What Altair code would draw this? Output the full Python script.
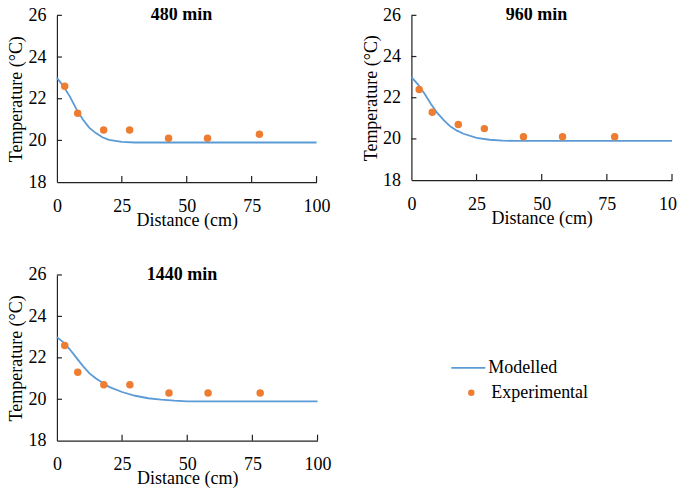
import altair as alt
import pandas as pd

# ---- data ----
exp_distance = [3, 8, 18, 28, 43, 58, 78]
exp_480 = [22.6, 21.3, 20.5, 20.5, 20.1, 20.1, 20.3]
exp_960 = [22.4, 21.3, 20.7, 20.5, 20.1, 20.1, 20.1]
exp_1440 = [22.6, 21.3, 20.7, 20.7, 20.3, 20.3, 20.3]

model_x_480 = [0, 2.5, 5, 7.5, 10, 12.5, 15, 17.5, 20, 25, 30, 40, 60, 80, 100]
model_480 = [23.0, 22.6, 22.1, 21.5, 21.0, 20.6, 20.35, 20.15, 20.03, 19.93, 19.9, 19.9, 19.9, 19.9, 19.9]

model_x_960 = [0, 2.5, 5, 7.5, 10, 12.5, 15, 17.5, 20, 25, 30, 35, 40, 60, 80, 100]
model_960 = [23.0, 22.65, 22.2, 21.7, 21.25, 20.9, 20.6, 20.4, 20.25, 20.05, 19.96, 19.92, 19.9, 19.9, 19.9, 19.9]

model_x_1440 = [0, 2.5, 5, 7.5, 10, 12.5, 15, 17.5, 20, 25, 30, 35, 40, 45, 50, 60, 80, 100]
model_1440 = [23.0, 22.75, 22.4, 22.0, 21.6, 21.25, 21.0, 20.8, 20.6, 20.35, 20.17, 20.05, 19.98, 19.93, 19.9, 19.9, 19.9, 19.9]

x_ticks = [25, 50, 75, 100]
y_ticks = [20, 22, 24, 26]
titles = ["480 min", "960 min", "1440 min"]
series_names = ["Modelled", "Experimental"]

FONT = "Liberation Serif"
BLUE = "#5B9BD5"
ORANGE = "#ED7D31"
AXC = "#222222"
FS = 18


def panel(title, mx, my, ey, w, h, show_legend=False):
    model_df = pd.DataFrame({"Distance": mx, "Temp": my, "Series": series_names[0]})
    exp_df = pd.DataFrame({"Distance": exp_distance, "Temp": ey, "Series": series_names[1]})
    xs = alt.Scale(domain=[0, 100], nice=False)
    ys = alt.Scale(domain=[18, 26], nice=False)
    xax = alt.Axis(values=[0, 25, 50, 75, 100], ticks=False, grid=False, labelPadding=15,
                   labelFlush=False, title="Distance (cm)", titlePadding=-4,
                   domainColor=AXC, domainWidth=1.2)
    yax = alt.Axis(values=[18, 20, 22, 24, 26], ticks=False, grid=False, labelPadding=11,
                   labelFlush=False, title="Temperature (°C)", titlePadding=2,
                   domainColor=AXC, domainWidth=1.2)

    if show_legend:
        line_leg = alt.Legend(title=None, orient="none", legendX=394, legendY=75,
                              symbolType="stroke", symbolSize=1156, symbolStrokeWidth=1.8,
                              labelOffset=2, padding=0)
        pt_leg = alt.Legend(title=None, orient="none", legendX=406, legendY=109,
                            symbolType="circle", symbolSize=42, labelOffset=11, padding=0)
    else:
        line_leg = None
        pt_leg = None

    line = alt.Chart(model_df).mark_line(strokeWidth=1.8).encode(
        x=alt.X("Distance:Q", scale=xs, axis=xax),
        y=alt.Y("Temp:Q", scale=ys, axis=yax),
        color=alt.Color("Series:N", scale=alt.Scale(domain=[series_names[0]], range=[BLUE]),
                        legend=line_leg),
    )
    pts = alt.Chart(exp_df).mark_point(filled=True, opacity=1, size=56).encode(
        x=alt.X("Distance:Q", scale=xs),
        y=alt.Y("Temp:Q", scale=ys),
        color=alt.Color("Series:N", scale=alt.Scale(domain=[series_names[1]], range=[ORANGE]),
                        legend=pt_leg),
    )
    xt = alt.Chart(pd.DataFrame({"t": x_ticks})).mark_rule(color=AXC, strokeWidth=1.2).encode(
        x=alt.X("t:Q", scale=xs), y=alt.value(h), y2=alt.value(h - 6))
    yt = alt.Chart(pd.DataFrame({"t": y_ticks})).mark_rule(color=AXC, strokeWidth=1.2).encode(
        y=alt.Y("t:Q", scale=ys), x=alt.value(0), x2=alt.value(5))
    ttl = alt.Chart(pd.DataFrame({"x": [48], "y": [26], "label": [title]})).mark_text(
        font=FONT, fontSize=18, fontWeight="bold", color="#000", baseline="middle"
    ).encode(x=alt.X("x:Q", scale=xs), y=alt.Y("y:Q", scale=ys), text="label:N")

    return alt.layer(line, pts, xt, yt, ttl).resolve_scale(color="independent").properties(
        width=w, height=h)


p1 = panel(titles[0], model_x_480, model_480, exp_480, 260, 167)
p2 = panel(titles[1], model_x_960, model_960, exp_960, 261, 165)
p3 = panel(titles[2], model_x_1440, model_1440, exp_1440, 261, 166, show_legend=True)

row1 = alt.hconcat(p1, p2, spacing=32)
chart = alt.vconcat(row1, p3, spacing=37).configure_view(stroke=None).configure_axis(
    labelFont=FONT, titleFont=FONT, labelFontSize=FS, titleFontSize=FS,
    labelColor="#000", titleColor="#000", titleFontWeight="normal"
).configure_legend(labelFont=FONT, labelFontSize=FS, labelColor="#000").properties(
    padding={"left": 0, "top": -2, "right": -9, "bottom": 0})

chart.save("out.html", embed_options={"renderer": "svg", "actions": False})
